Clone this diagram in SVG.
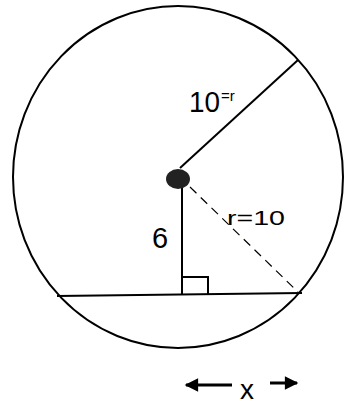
<svg xmlns="http://www.w3.org/2000/svg" width="344" height="404" viewBox="0 0 344 404">
<style>
.ln{stroke:#000;stroke-width:2;fill:none}
.t{font-family:"Liberation Sans",Arial,sans-serif;fill:#000}
</style>
<defs>
<marker id="ah" viewBox="0 0 10 10" refX="9" refY="5" markerWidth="5" markerHeight="4.5" orient="auto-start-reverse" markerUnits="strokeWidth">
<path d="M0,0 L10,5 L0,10 Z" fill="#000"/>
</marker>
</defs>
<rect width="344" height="404" fill="#fff"/>
<g id="circle">
<ellipse cx="178" cy="177" rx="165" ry="171" class="ln"/>
</g>
<g id="connectors">
<line x1="180" y1="168" x2="298" y2="60" class="ln"/>
<line x1="57" y1="296" x2="302" y2="293" class="ln"/>
<line x1="182" y1="186" x2="182" y2="295" class="ln"/>
<line x1="190" y1="187" x2="298" y2="292" stroke="#000" stroke-width="1.2" stroke-dasharray="9,6"/>
<path d="M182,277 H208 V295" class="ln"/>
<line x1="232" y1="385" x2="186" y2="385" stroke="#000" stroke-width="3" marker-end="url(#ah)"/>
<line x1="270" y1="383" x2="297" y2="383" stroke="#000" stroke-width="3" marker-end="url(#ah)"/>
</g>
<g id="center">
<ellipse cx="178" cy="179" rx="12" ry="10" fill="#222"/>
</g>
<g id="labels">
<text class="t" x="189" y="112" font-size="29" textLength="31" lengthAdjust="spacingAndGlyphs">10</text>
<text class="t" x="221" y="101" font-size="15">=r</text>
<text class="t" x="152" y="248" font-size="29">6</text>
<text class="t" x="227" y="225" font-size="20" textLength="58" lengthAdjust="spacingAndGlyphs">r=10</text>
<text class="t" x="240" y="399" font-size="28">x</text>
</g>
</svg>
